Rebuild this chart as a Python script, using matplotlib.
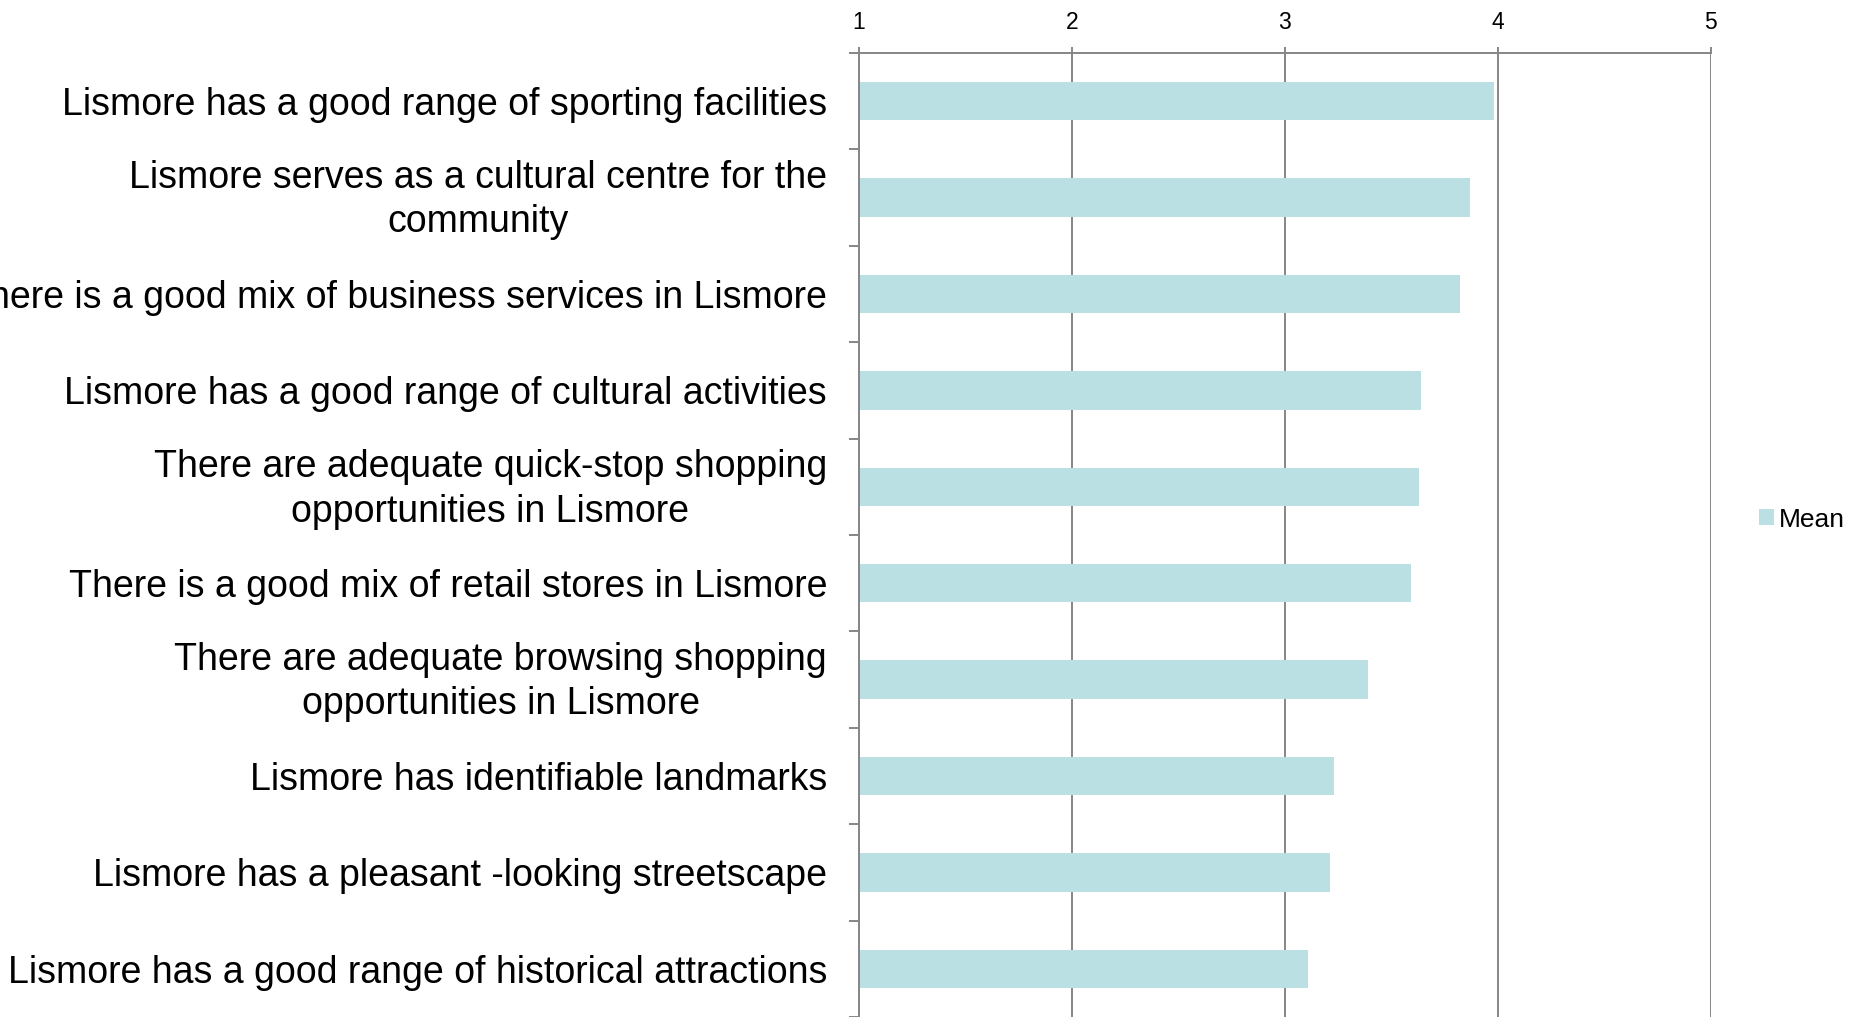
import matplotlib
matplotlib.use("Agg")
import matplotlib.pyplot as plt
import matplotlib.transforms as mtransforms
import numpy as np

plt.rcParams['font.family'] = ['Liberation Sans', 'DejaVu Sans']

statements = [
    "Lismore has a good range of sporting facilities",
    "Lismore serves as a cultural centre for the\ncommunity",
    "There is a good mix of business services in Lismore",
    "Lismore has a good range of cultural activities",
    "There are adequate quick-stop shopping\nopportunities in Lismore",
    "There is a good mix of retail stores in Lismore",
    "There are adequate browsing shopping\nopportunities in Lismore",
    "Lismore has identifiable landmarks",
    "Lismore has a pleasant -looking streetscape",
    "Lismore has a good range of historical attractions",
]
mean_scores = [3.98, 3.87, 3.82, 3.64, 3.63, 3.59, 3.39, 3.23, 3.21, 3.11]
scale_ticks = [1, 2, 3, 4, 5]

bar_color = '#BBE0E3'
grid_color = '#868686'

fig = plt.figure(figsize=(18.5, 10.17), dpi=100)
ax = fig.add_axes([0.4643, 0.0, 0.4605, 0.9479])

y = np.arange(len(statements))
base = scale_ticks[0]
ax.barh(y, np.array(mean_scores) - base, left=base, height=0.4,
        color=bar_color, label='Mean', zorder=2)

ax.set_xlim(scale_ticks[0], scale_ticks[-1])
ax.set_ylim(len(statements) - 0.5, -0.5)

# value axis on top
ax.xaxis.tick_top()
ax.set_xticks(scale_ticks)
ax.set_xticklabels([str(t) for t in scale_ticks], fontsize=16.5)
ax.tick_params(axis='x', direction='out', length=4.5, width=1.4,
               color=grid_color, pad=9)
ax.grid(axis='x', color=grid_color, linewidth=1.4, zorder=1)

# category labels at centres, tick marks at boundaries
ax.set_yticks(y)
ax.set_yticklabels(statements, fontsize=27, multialignment='center',
                   linespacing=1.3)
ax.tick_params(axis='y', which='major', length=0, pad=23)
ax.set_yticks(np.arange(len(statements) + 1) - 0.5, minor=True)
ax.tick_params(axis='y', which='minor', direction='out', length=7,
               width=1.4, color=grid_color)

# two-line labels sit a little higher in the original
nudge = mtransforms.ScaledTranslation(0, 4 / 72, fig.dpi_scale_trans)
for lbl in ax.get_yticklabels():
    if '\n' in lbl.get_text():
        lbl.set_transform(lbl.get_transform() + nudge)

for side in ['right', 'bottom']:
    ax.spines[side].set_visible(False)
for side in ['top', 'left']:
    ax.spines[side].set_color(grid_color)
    ax.spines[side].set_linewidth(1.4)

fig.legend(loc='center left', bbox_to_anchor=(0.951, 0.489),
           frameon=False, fontsize=19, handlelength=0.55, handleheight=0.55,
           handletextpad=0.2, borderpad=0, borderaxespad=0)

fig.savefig('out.png', dpi=100)
